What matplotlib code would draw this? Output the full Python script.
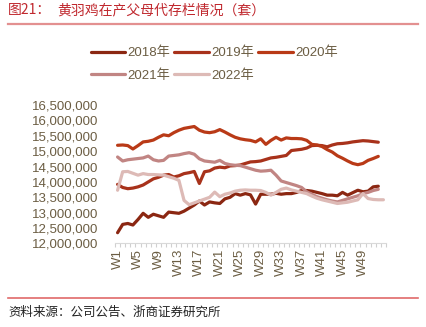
import matplotlib
matplotlib.use('Agg')
import matplotlib.pyplot as plt
import numpy as np

plt.rcParams['font.family'] = ['Liberation Sans', 'Noto Sans CJK SC']

weeks = ['W%d' % i for i in range(1, 54)]

y2018 = [12.35, 12.62, 12.65, 12.60, 12.78, 12.98, 12.85, 12.95, 12.90, 12.85,
         13.02, 13.00, 12.98, 13.05, 13.15, 13.25, 13.38, 13.25, 13.35, 13.32,
         13.30, 13.45, 13.50, 13.62, 13.57, 13.62, 13.58, 13.28, 13.60, 13.60,
         13.60, 13.63, 13.60, 13.62, 13.62, 13.66, 13.72, 13.72, 13.70, 13.66,
         13.62, 13.57, 13.57, 13.55, 13.66, 13.57, 13.65, 13.73, 13.68, 13.70,
         13.84, 13.86]
y2019 = [13.92, 13.82, 13.78, 13.80, 13.84, 13.90, 14.00, 14.10, 14.15, 14.22,
         14.24, 14.16, 14.20, 14.27, 14.30, 14.34, 13.95, 14.33, 14.36, 14.45,
         14.48, 14.46, 14.52, 14.53, 14.55, 14.60, 14.65, 14.66, 14.68, 14.73,
         14.78, 14.80, 14.83, 14.86, 15.02, 15.04, 15.06, 15.10, 15.18, 15.19,
         15.18, 15.14, 15.20, 15.24, 15.25, 15.27, 15.30, 15.32, 15.34, 15.33,
         15.31, 15.29]
y2020 = [15.19, 15.20, 15.18, 15.07, 15.18, 15.30, 15.32, 15.36, 15.45, 15.53,
         15.50, 15.60, 15.68, 15.74, 15.77, 15.80, 15.68, 15.62, 15.60, 15.63,
         15.70, 15.62, 15.53, 15.45, 15.40, 15.37, 15.35, 15.30, 15.40, 15.22,
         15.35, 15.45, 15.36, 15.43, 15.41, 15.41, 15.40, 15.35, 15.22, 15.20,
         15.15, 15.05, 14.97, 14.85, 14.77, 14.68, 14.60, 14.56, 14.60, 14.70,
         14.76, 14.83]
y2021 = [14.81, 14.68, 14.72, 14.74, 14.76, 14.78, 14.84, 14.72, 14.68, 14.70,
         14.84, 14.86, 14.88, 14.92, 14.95, 14.90, 14.75, 14.68, 14.66, 14.64,
         14.70, 14.60, 14.56, 14.54, 14.53, 14.48, 14.43, 14.38, 14.35, 14.36,
         14.38, 14.22, 14.03, 13.98, 13.93, 13.88, 13.82, 13.68, 13.60, 13.52,
         13.47, 13.42, 13.38, 13.35, 13.40, 13.45, 13.50, 13.55, 13.62, 13.66,
         13.72, 13.76]
y2022 = [13.73, 14.33, 14.34, 14.28, 14.22, 14.27, 14.24, 14.24, 14.23, 14.22,
         14.17, 14.12, 14.05, 13.40, 13.26, 13.32, 13.38, 13.44, 13.50, 13.67,
         13.52, 13.60, 13.64, 13.70, 13.73, 13.74, 13.73, 13.73, 13.72, 13.66,
         13.57, 13.66, 13.76, 13.80, 13.74, 13.70, 13.66, 13.62, 13.54, 13.47,
         13.42, 13.38, 13.34, 13.30, 13.32, 13.34, 13.38, 13.42, 13.62, 13.46,
         13.43, 13.42, 13.42]

series = [
    ('2018年', y2018, '#8B2712'),
    ('2019年', y2019, '#A8321B'),
    ('2020年', y2020, '#B93A17'),
    ('2021年', y2021, '#C18583'),
    ('2022年', y2022, '#DDBAB6'),
]

yticks = np.arange(12000000, 16500001, 500000)
txt = '#6B5D43'

fig = plt.figure(figsize=(4.26, 3.27), dpi=100)
ax = fig.add_axes([0.27, 0.2554, 0.636, 0.4236])

lines = {}
for name, vals, col in series:
    vals = np.array(vals) * 1e6
    ln, = ax.plot(np.arange(len(vals)), vals, color=col, lw=2.3,
                  solid_capstyle='round', label=name)
    lines[name] = ln

ax.set_xlim(-0.5, len(weeks) - 0.5)
ax.set_ylim(12000000, 16500000)
ax.set_yticks(yticks)
ax.set_yticklabels(['{:,}'.format(int(v)) for v in yticks])
ax.set_xticks(np.arange(0, 49, 4))
ax.set_xticklabels(weeks[0:49:4], rotation=90)
ax.set_xticks(np.arange(-0.5, len(weeks), 1), minor=True)
ax.tick_params(axis='x', which='major', length=0, pad=4, labelsize=9.5, labelcolor=txt)
ax.tick_params(axis='x', which='minor', length=3, color='#D0D0D0', width=0.8)
ax.tick_params(axis='y', length=0, pad=12, labelsize=9.5, labelcolor=txt)
for s in ['top', 'right', 'left']:
    ax.spines[s].set_visible(False)
ax.spines['bottom'].set_color('#D9D9D9')

order = ['2018年', '2021年', '2019年', '2022年', '2020年']
fig.legend([lines[k] for k in order], order, loc='center', ncol=3,
           bbox_to_anchor=(0.503, 0.803), frameon=False, fontsize=9.5,
           handlelength=2.6, handletextpad=0.2, columnspacing=0.3,
           labelspacing=0.75, labelcolor=txt)

fig.text(8 / 426, 1 - 10 / 327, '图21：', color='#C0282E', fontsize=10,
         family='Noto Sans CJK SC', va='center')
fig.text(57 / 426, 1 - 10 / 327, '黄羽鸡在产父母代存栏情况（套）', color='#C0282E',
         fontsize=10, family='Noto Sans CJK SC', va='center')
fig.add_artist(plt.Line2D([8 / 426, 418 / 426], [1 - 24 / 327, 1 - 24 / 327],
                          color='#E39090', lw=1.6, transform=fig.transFigure))
fig.add_artist(plt.Line2D([8 / 426, 418 / 426], [1 - 297.5 / 327, 1 - 297.5 / 327],
                          color='#E06A6A', lw=1.2, transform=fig.transFigure))
fig.text(8 / 426, 1 - 312 / 327, '资料来源：公司公告、浙商证券研究所', color='#222222',
         fontsize=9, family='Noto Sans CJK SC', va='center')

fig.savefig('out.png', dpi=100)
